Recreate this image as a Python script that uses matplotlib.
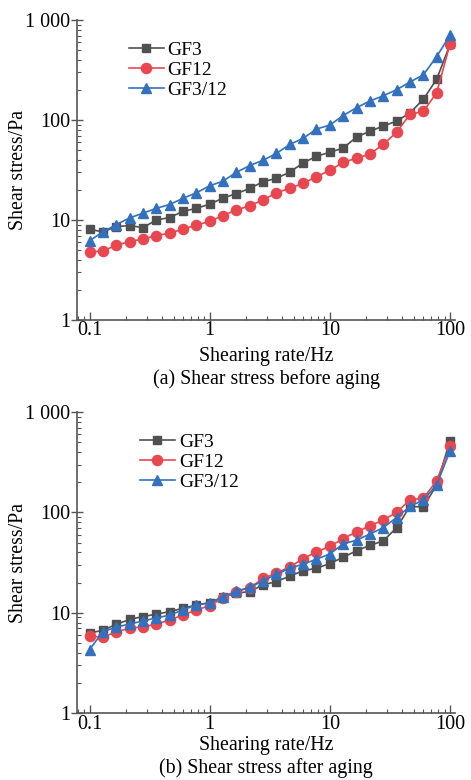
import numpy as np
import matplotlib
matplotlib.use("Agg")
import matplotlib.pyplot as plt
from matplotlib.ticker import LogLocator, FixedLocator, FixedFormatter, NullFormatter

plt.rcParams['font.family'] = ['Liberation Serif', 'DejaVu Serif']

# shearing rate: 28 points, 0.1 .. 100 Hz
rate = 10 ** np.linspace(-1, 2, 28)

# (a) before aging
gf3_before = [8.1, 7.6, 8.6, 8.8, 8.4, 10.0, 10.6, 12.2, 13.1, 14.4, 16.6, 18.4, 20.7, 24.2,
              26.1, 30.2, 37.2, 43.5, 47.5, 52.5, 67.5, 77.3, 87.1, 97.5, 118, 161, 256, 570]
gf12_before = [4.8, 4.9, 5.6, 6.1, 6.45, 7.0, 7.4, 8.1, 8.9, 9.7, 11.1, 12.6, 13.9, 15.9,
               18.7, 20.8, 23.3, 27.1, 31.4, 37.8, 41.5, 45.7, 57, 75.5, 114, 122, 187, 575]
gf312_before = [6.2, 7.6, 9.0, 10.5, 11.7, 13.1, 14.3, 16.5, 18.7, 22.0, 24.5, 30.0, 35.1, 39.6,
                46.4, 57, 65.7, 81.3, 89.1, 111, 133, 155, 175, 201, 240, 283, 431, 705]

# (b) after aging
gf3_after = [6.3, 6.7, 7.7, 8.6, 9.2, 9.7, 10.3, 11.1, 12.0, 12.6, 14.3, 15.7, 16.3, 19.0,
             20.5, 23.2, 26.3, 27.8, 31.0, 35.8, 41.5, 47, 52, 70.5, 115, 113, 188, 520]
gf12_after = [5.9, 5.7, 6.5, 7.0, 7.3, 7.7, 8.5, 9.5, 10.7, 11.8, 14.0, 16.3, 17.8, 22.0,
              24.8, 28.8, 34.5, 40.7, 45.8, 55, 64, 73.6, 84, 100, 134, 138, 207, 457]
gf312_after = [4.3, 6.5, 7.2, 7.75, 8.3, 8.9, 9.5, 10.7, 12.0, 12.6, 14.5, 16.5, 17.9, 20.9,
               24.2, 27.8, 30.6, 34.2, 38.6, 48.6, 53, 61, 70.5, 89, 115, 133, 188, 410]

labels = ['GF3', 'GF12', 'GF3/12']
colors = ['#505050', '#e8474f', '#3370bd']
markers = ['s', 'o', '^']
msizes = [6.3, 7.3, 7.8]

ytick_vals = [1, 10, 100, 1000]
ytick_labels = ['1', '10', '100', '1 000']
xtick_vals = [0.1, 1, 10, 100]
xtick_labels = ['0.1', '1', '10', '100']

fig = plt.figure(figsize=(4.71, 7.8), dpi=100)
ax_a = fig.add_axes([0.1645, 0.5897, 0.8015, 0.3846])
ax_b = fig.add_axes([0.1645, 0.0855, 0.8015, 0.3863])


def style_axis(ax, series, caption, leg_anchor, xpad):
    for ys, lab, c, m, ms in zip(series, labels, colors, markers, msizes):
        ax.plot(rate, ys, color=c, marker=m, markersize=ms, lw=1.2,
                markeredgecolor=c, label=lab)
    ax.set_xscale('log')
    ax.set_yscale('log')
    ax.set_xlim(0.0794, 110)
    ax.set_ylim(1, 1000)
    for s in ['top', 'right']:
        ax.spines[s].set_visible(False)
    for s in ['left', 'bottom']:
        ax.spines[s].set_color('#555555')
        ax.spines[s].set_linewidth(1.2)
    ax.xaxis.set_major_locator(FixedLocator(xtick_vals))
    ax.xaxis.set_major_formatter(FixedFormatter(xtick_labels))
    ax.yaxis.set_major_locator(FixedLocator(ytick_vals))
    ax.yaxis.set_major_formatter(FixedFormatter(ytick_labels))
    ax.xaxis.set_minor_locator(LogLocator(base=10, subs=np.arange(2, 10)))
    ax.yaxis.set_minor_locator(LogLocator(base=10, subs=np.arange(2, 10)))
    ax.xaxis.set_minor_formatter(NullFormatter())
    ax.yaxis.set_minor_formatter(NullFormatter())
    ax.tick_params(axis='x', which='major', direction='in', length=6, width=1,
                   color='#555555', labelsize=14.5, pad=1)
    ax.tick_params(axis='x', which='minor', direction='in', length=3, width=0.8,
                   color='#555555')
    ax.tick_params(axis='y', which='major', direction='inout', length=8, width=1,
                   color='#555555', labelsize=14.5, pad=1)
    ax.tick_params(axis='y', which='minor', direction='in', length=3, width=0.8,
                   color='#555555')
    ax.set_ylabel('Shear stress/Pa', fontsize=14.3)
    ax.yaxis.set_label_coords(-0.13, 0.5)
    ax.set_xlabel('Shearing rate/Hz' + '\n' + caption, fontsize=14.3, labelpad=xpad,
                  linespacing=1.15)
    ax.legend(loc='upper left', bbox_to_anchor=leg_anchor, frameon=False, fontsize=14,
              numpoints=1, handlelength=1.8, handletextpad=0.2, labelspacing=0.12,
              borderaxespad=0)


style_axis(ax_a, [gf3_before, gf12_before, gf312_before],
           '(a) Shear stress before aging', (0.115, 0.955), 5)
style_axis(ax_b, [gf3_after, gf12_after, gf312_after],
           '(b) Shear stress after aging', (0.145, 0.955), 2)

fig.savefig('out.png', dpi=100)
